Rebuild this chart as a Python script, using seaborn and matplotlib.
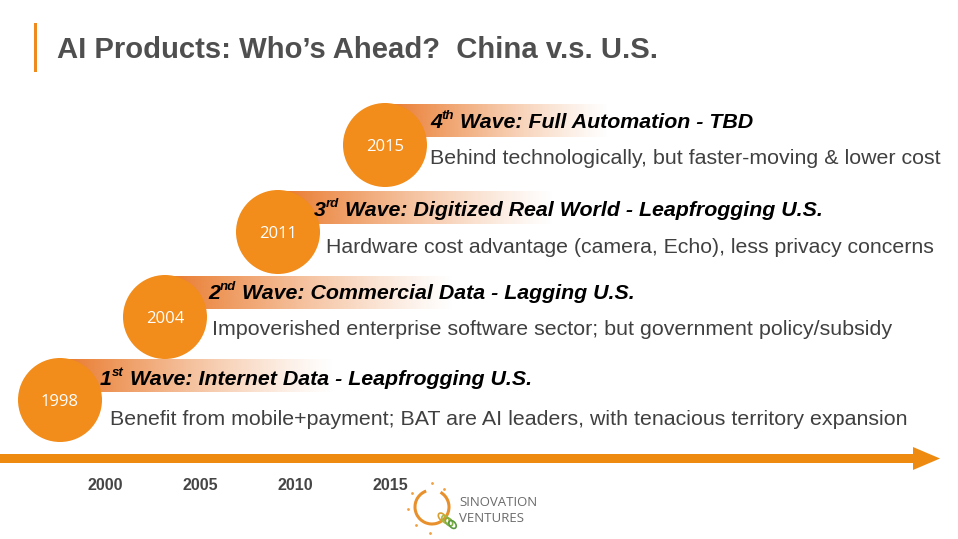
import numpy as np
import pandas as pd
import matplotlib
matplotlib.use("Agg")
import matplotlib.pyplot as plt
import seaborn as sns
from matplotlib.patches import Arc, Ellipse, Rectangle
from matplotlib.colors import to_rgb

# ---------------- data ----------------
slide_title = "AI Products: Who\u2019s Ahead?  China v.s. U.S."
wave_start_years = ["1998", "2004", "2011", "2015"]
wave_ordinals = ["1", "2", "3", "4"]
wave_suffixes = ["st", "nd", "rd", "th"]
wave_titles = [
    " Wave: Internet Data - Leapfrogging U.S.",
    " Wave: Commercial Data - Lagging U.S.",
    " Wave: Digitized Real World - Leapfrogging U.S.",
    " Wave: Full Automation - TBD",
]
wave_descriptions = [
    "Benefit from mobile+payment; BAT are AI leaders, with tenacious territory expansion",
    "Impoverished enterprise software sector; but government policy/subsidy",
    "Hardware cost advantage (camera, Echo), less privacy concerns",
    "Behind technologically, but faster-moving & lower cost",
]
axis_years = [2000, 2005, 2010, 2015]
logo_lines = ["SINOVATION", "VENTURES"]

# ---------------- layout / style ----------------
W, H = 958, 539
ORANGE = "#F28C1A"
BAND = "#E9782A"
circle_cx = [60, 165, 278, 385]
circle_cy = [400, 317, 232, 145]
circle_r = 42
band_end = [335, 455, 555, 610]
title_x = [100, 208, 314, 430]
title_base = [385, 299, 216, 128]
desc_x = [110, 212, 326, 430]
desc_base = [425, 335, 253, 164]
desc_w = [802, 684, 615, 514]

sns.set_theme(style="white")
plt.rcParams["font.family"] = ["Liberation Sans", "DejaVu Sans"]

fig = plt.figure(figsize=(W / 100, H / 100), dpi=100)
ax = fig.add_axes([0, 0, 1, 1])
ax.set_xlim(0, W)
ax.set_ylim(H, 0)
ax.axis("off")
renderer = fig.canvas.get_renderer()

# title bar + title
ax.add_patch(Rectangle((34, 23), 3, 49, color="#EE8A1E", lw=0))
t = ax.text(57, 50, slide_title, fontsize=20, fontweight="bold", color="#4F4F4F",
            va="center", ha="left")
bb = t.get_window_extent(renderer)
t.set_fontsize(20 * 601 / bb.width)

# gradient bands
for cx, cy, xe in zip(circle_cx, circle_cy, band_end):
    n = 256
    a = np.linspace(1, 0, n) ** 1.2
    img = np.zeros((2, n, 4))
    img[..., :3] = to_rgb(BAND)
    img[..., 3] = a
    ax.imshow(img, extent=[cx, xe, cy - 8, cy - 41], aspect="auto",
              interpolation="bilinear", zorder=1)

# circles through seaborn
df = pd.DataFrame({"x": circle_cx, "y": circle_cy, "year": wave_start_years})
size_pt = 2 * circle_r * 72 / 100
sns.scatterplot(data=df, x="x", y="y", s=size_pt ** 2, color=ORANGE,
                edgecolor="none", linewidth=0, ax=ax, zorder=3, legend=False)
ax.set_xlim(0, W)
ax.set_ylim(H, 0)
ax.set_xlabel("")
ax.set_ylabel("")
for cx, cy, yr in zip(circle_cx, circle_cy, wave_start_years):
    ax.text(cx, cy + 2, yr, color="white", fontsize=12, ha="center", va="center",
            family=["Open Sans", "DejaVu Sans"], zorder=4)

# wave titles (ordinal + superscript + title)
fs = 15.4
for x0, yb, o, suf, tt in zip(title_x, title_base, wave_ordinals, wave_suffixes, wave_titles):
    kw = dict(fontweight="bold", fontstyle="italic", color="black", va="baseline",
              ha="left", zorder=5)
    t1 = ax.text(x0, yb, o, fontsize=fs, **kw)
    w1 = t1.get_window_extent(renderer).width
    t2 = ax.text(x0 + w1, yb - fs * 0.6, suf, fontsize=fs * 0.62, **kw)
    w2 = t2.get_window_extent(renderer).width
    ax.text(x0 + w1 + w2, yb, tt, fontsize=fs, **kw)

# descriptions
for x0, yb, s, tw in zip(desc_x, desc_base, wave_descriptions, desc_w):
    t = ax.text(x0, yb, s, fontsize=14, color="#404040", va="baseline", ha="left", zorder=5)
    bb = t.get_window_extent(renderer)
    t.set_fontsize(14 * tw / bb.width)

# timeline arrow
ax.fill([0, 913, 913, 940, 913, 913, 0], [454, 454, 447, 458.5, 470, 463, 463],
        color="#EE8A10", lw=0, zorder=2)

# axis year labels (linear year scale)
def year_x(y):
    return 105 + (y - 2000) * 19.05
for yr in axis_years:
    ax.text(year_x(yr), 486, str(yr), fontsize=11.5, fontweight="bold", color="#454545",
            ha="center", va="center")

# logo
ax.add_patch(Arc((432, 507), 34, 34, theta1=300, theta2=250, color="#E8912C", lw=2.2))
for dx, dy in [(-20, -14), (-24, 2), (-16, 18), (0, -24), (12, -18), (-2, 26)]:
    ax.plot(432 + dx, 507 + dy, "o", ms=2, color="#F0A040", mec="none")
for i in range(4):
    ax.add_patch(Ellipse((442 + i * 3.5, 517 + i * 2.5), 6, 9, angle=-40, fill=False,
                         ec=["#D8A030", "#A8B840", "#80B040", "#5A9A40"][i], lw=1.2))
for line, yy in zip(logo_lines, [502, 518]):
    t = ax.text(459, yy, line, fontsize=9, color="#6B6B6B", va="center", ha="left",
                family=["Open Sans", "DejaVu Sans"])
    if line == logo_lines[0]:
        bb = t.get_window_extent(renderer)
        logo_fs = 9 * 79 / bb.width
    t.set_fontsize(logo_fs)

fig.savefig("out.png", dpi=100, facecolor="white")
